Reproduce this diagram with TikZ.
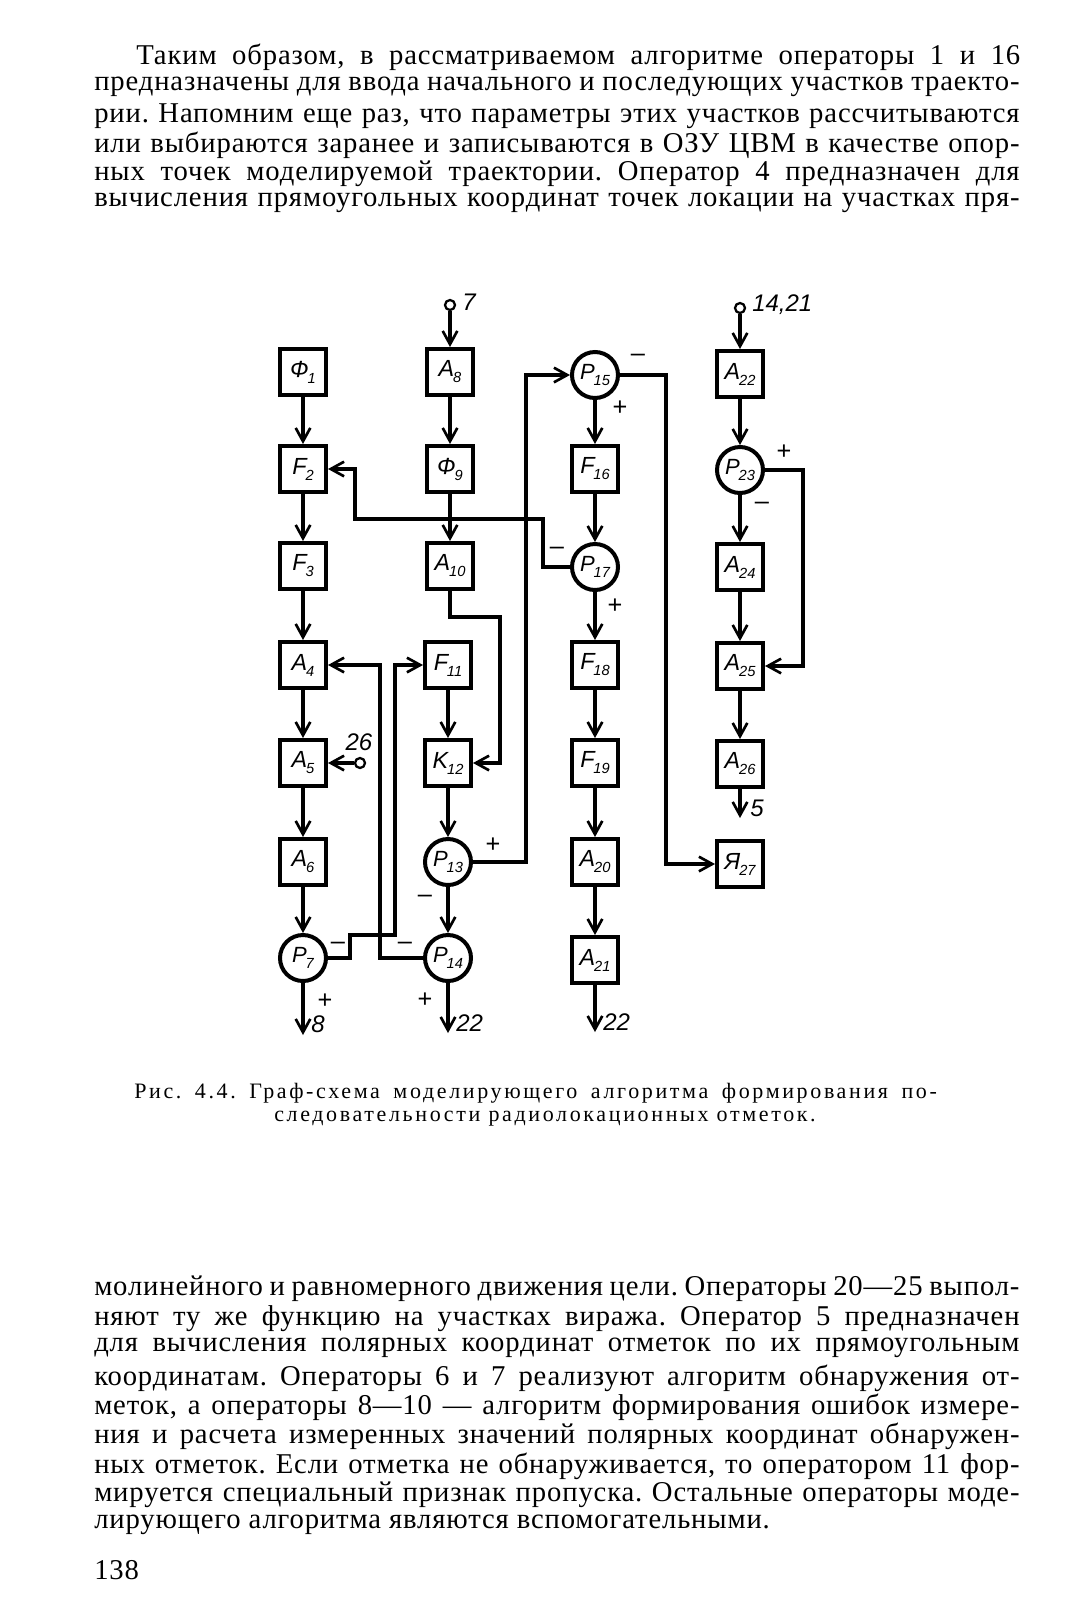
\documentclass[tikz,border=0pt]{standalone}
\usepackage{fontspec}
\setmainfont{Liberation Serif}
\newfontfamily\schfont{Liberation Sans}
\usepackage{tikz}
\usetikzlibrary{arrows.meta,positioning,calc}
\frenchspacing

% operator label: letter with lowered index
\newcommand{\op}[2]{#1\kern-0.8pt\raisebox{-4.5pt}{\fontsize{11}{11}\selectfont #2}}
% justified text line of given width
\newcommand{\jline}[2]{\makebox[#1][s]{#2}}

\begin{document}
\begin{tikzpicture}[x=0.75pt, y=-0.75pt,
    every node/.style={inner sep=0pt},
    txt/.style={anchor=west, font=\fontsize{21.5}{22}\selectfont\addfontfeature{LetterSpace=3}},
    captxt/.style={font=\fontsize{16.5}{17}\selectfont\addfontfeature{LetterSpace=12}},
    box/.style={draw, line width=3pt, minimum width=34.5pt, minimum height=34.5pt,
                font=\schfont\itshape\fontsize{17.5}{17.5}\selectfont},
    sum/.style={circle, draw, line width=3pt, minimum size=34.5pt,
                font=\schfont\itshape\fontsize{16.5}{16.5}\selectfont},
    pin/.style={circle, draw, line width=1.7pt, minimum size=7.5pt},
    sgn/.style={font=\schfont\fontsize{19}{19}\selectfont},
    num/.style={font=\schfont\itshape\fontsize{18}{18}\selectfont},
    arr/.style={-{Straight Barb[length=10pt,width=11pt,line width=2pt]}, line width=2.4pt}
  ]
  \fill[white] (0,0) rectangle (1068,1600);
  \useasboundingbox (0,0) rectangle (1068,1600);

  % text above the figure
  \node[txt] (t1) at (136,57) {\jline{663pt}{Таким образом, в рассматриваемом алгоритме операторы 1 и 16}};
  \node[txt] (t2) at (94,87)  {\jline{694pt}{предназначены для ввода начального и последующих участков траекто-}};
  \node[txt] (t3) at (94,116) {\jline{694pt}{рии. Напомним еще раз, что параметры этих участков рассчитываются}};
  \node[txt] (t4) at (94,145) {\jline{694pt}{или выбираются заранее и записываются в ОЗУ ЦВМ в качестве опор-}};
  \node[txt] (t5) at (94,174) {\jline{694pt}{ных точек моделируемой траектории. Оператор 4 предназначен для}};
  \node[txt] (t6) at (94,203) {\jline{694pt}{вычисления прямоугольных координат точек локации на участках пря-}};

  % column 1
  \node[box] (f1) at (303,372) {\op{Ф}{1}};
  \node[box] (f2) at (303,469) {\op{F}{2}};
  \node[box] (f3) at (303,566) {\op{F}{3}};
  \node[box] (a4) at (303,665) {\op{A}{4}};
  \node[box] (a5) at (303,763) {\op{A}{5}};
  \node[box] (a6) at (303,862) {\op{A}{6}};
  \node[sum] (p7) at (303,958) {\op{P}{7}};
  \coordinate (out8) at (303,1035);

  % column 2
  \node[pin] (in7) at (450,305) {};
  \node[box] (a8)  at (450,372) {\op{A}{8}};
  \node[box] (f9)  at (450,469) {\op{Ф}{9}};
  \node[box] (a10) at (450,566) {\op{A}{10}};
  \node[box] (f11) at (448,665) {\op{F}{11}};
  \node[box] (k12) at (448,763) {\op{K}{12}};
  \node[sum] (p13) at (448,862) {\op{P}{13}};
  \node[sum] (p14) at (448,958) {\op{P}{14}};
  \coordinate (out22a) at (448,1033);

  % column 3
  \node[sum] (p15) at (595,375) {\op{P}{15}};
  \node[box] (f16) at (595,469) {\op{F}{16}};
  \node[sum] (p17) at (595,567) {\op{P}{17}};
  \node[box] (f18) at (595,665) {\op{F}{18}};
  \node[box] (f19) at (595,763) {\op{F}{19}};
  \node[box] (a20) at (595,862) {\op{A}{20}};
  \node[box] (a21) at (595,960) {\op{A}{21}};
  \coordinate (out22b) at (595,1032);

  % column 4
  \node[pin] (in14) at (740,308) {};
  \node[box] (a22) at (740,374) {\op{A}{22}};
  \node[sum] (p23) at (740,470) {\op{P}{23}};
  \node[box] (a24) at (740,567) {\op{A}{24}};
  \node[box] (a25) at (740,666) {\op{A}{25}};
  \node[box] (a26) at (740,764) {\op{A}{26}};
  \coordinate (out5) at (740,818);
  \node[box] (ja27) at (740,864) {\op{Я}{27}};

  \node[pin] (in26) at (360,763) {};

  % bends
  \coordinate (k1) at (526,375);
  \coordinate (k2) at (666,864);
  \coordinate (k3) at (543,519);
  \coordinate (k4) at (355,469);
  \coordinate (k5) at (500,617);
  \coordinate (k6) at (803,470);
  \coordinate (k7) at (380,958);
  \coordinate (k8) at (350,935);
  \coordinate (k9) at (395,935);

  \draw[arr] (f1) -- (f2);
  \draw[arr] (f2) -- (f3);
  \draw[arr] (f3) -- (a4);
  \draw[arr] (a4) -- (a5);
  \draw[arr] (a5) -- (a6);
  \draw[arr] (a6) -- (p7);
  \draw[arr] (p7) -- (out8);

  \draw[arr] (in7) -- (a8);
  \draw[arr] (a8)  -- (f9);
  \draw[arr] (f9)  -- (a10);
  \draw[arr] (f11) -- (k12);
  \draw[arr] (k12) -- (p13);
  \draw[arr] (p13) -- (p14);
  \draw[arr] (p14) -- (out22a);

  \draw[arr] (p15) -- (f16);
  \draw[arr] (f16) -- (p17);
  \draw[arr] (p17) -- (f18);
  \draw[arr] (f18) -- (f19);
  \draw[arr] (f19) -- (a20);
  \draw[arr] (a20) -- (a21);
  \draw[arr] (a21) -- (out22b);

  \draw[arr] (in14) -- (a22);
  \draw[arr] (a22) -- (p23);
  \draw[arr] (p23) -- (a24);
  \draw[arr] (a24) -- (a25);
  \draw[arr] (a25) -- (a26);
  \draw[arr] (a26) -- (out5);

  \draw[arr] (in26) -- (a5);
  \draw[arr] (p13.east) -| (k1) -- (p15.west);
  \draw[arr] (p15.east) -| (k2) -- (ja27.west);
  \draw[arr] (p17.west) -| (k3) -| (k4) -- (f2.east);
  \draw[arr] (a10.south) |- (k5) |- (k12.east);
  \draw[arr] (p23.east) -- (k6) |- (a25.east);
  \draw[arr] (p14.west) -- (k7) |- (a4.east);
  \draw[arr] (p7.east) -| (k8) -- (k9) |- (f11.west);

  % inputs and outputs
  \node[num, anchor=west] (l7)  at (462,302) {7};
  \node[num, anchor=west] (l14) at (752,305) {14,21};
  \node[num] (l26) at (359,742) {26};
  \node[num] (l8)  at (318,1024) {8};
  \node[num, anchor=west] (l22a) at (456,1023) {22};
  \node[num, anchor=west] (l22b) at (603,1022) {22};
  \node[num] (l5)  at (757,808) {5};

  % signs at the comparators
  \node[sgn] (m15) at (638,358) {–};
  \node[sgn] (s15) at (620,408) {+};
  \node[sgn] (m17) at (557,551) {–};
  \node[sgn] (s17) at (615,606) {+};
  \node[sgn] (s23) at (784,452) {+};
  \node[sgn] (m23) at (762,506) {–};
  \node[sgn] (s13) at (493,845) {+};
  \node[sgn] (m13) at (425,899) {–};
  \node[sgn] (m14) at (405,946) {–};
  \node[sgn] (s14) at (425,1000) {+};
  \node[sgn] (m7)  at (338,946) {–};
  \node[sgn] (s7)  at (325,1001) {+};

  % caption
  \node[captxt, anchor=west] (c1) at (134,1093) {\jline{602pt}{Рис. 4.4. Граф-схема моделирующего алгоритма формирования по-}};
  \node[captxt] (c2) at (545,1119) {следовательности радиолокационных отметок.};

  % text below the figure
  \node[txt] (b1) at (94,1289) {\jline{694pt}{молинейного и равномерного движения цели. Операторы 20—25 выпол-}};
  \node[txt] (b2) at (94,1319) {\jline{694pt}{няют ту же функцию на участках виража. Оператор 5 предназначен}};
  \node[txt] (b3) at (94,1348) {\jline{694pt}{для вычисления полярных координат отметок по их прямоугольным}};
  \node[txt] (b4) at (94,1378) {\jline{694pt}{координатам. Операторы 6 и 7 реализуют алгоритм обнаружения от-}};
  \node[txt] (b5) at (94,1407) {\jline{694pt}{меток, а операторы 8—10 — алгоритм формирования ошибок измере-}};
  \node[txt] (b6) at (94,1436) {\jline{694pt}{ния и расчета измеренных значений полярных координат обнаружен-}};
  \node[txt] (b7) at (94,1466) {\jline{694pt}{ных отметок. Если отметка не обнаруживается, то оператором 11 фор-}};
  \node[txt] (b8) at (94,1495) {\jline{694pt}{мируется специальный признак пропуска. Остальные операторы моде-}};
  \node[txt] (b9) at (94,1525) {лирующего алгоритма являются вспомогательными.};
  \node[txt] (pg) at (94,1570) {138};
\end{tikzpicture}
\end{document}
